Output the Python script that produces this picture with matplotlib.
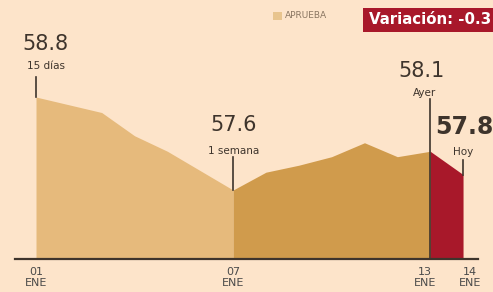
import matplotlib
matplotlib.use('Agg')
import matplotlib.pyplot as plt

# aprobacion diaria, enero
days = [1, 2, 3, 4, 5, 6, 7, 8, 9, 10, 11, 12, 13, 14]
approval = [58.8, 58.7, 58.6, 58.3, 58.1, 57.85, 57.6, 57.83, 57.92, 58.03, 58.21, 58.03, 58.1, 57.8]
tick_days = [1, 7, 13, 14]
tick_labels = ['01\nENE', '07\nENE', '13\nENE', '14\nENE']
legend_label = 'APRUEBA'
variation_label = 'Variación: -0.3'

bg = '#fde4ca'
light = '#e6ba7c'
dark = '#d09b4c'
red = '#a8182a'
ink = '#3e342c'
narrow = ['Liberation Sans Narrow', 'DejaVu Sans']

fig = plt.figure(figsize=(4.93, 2.92), dpi=100)
fig.set_facecolor(bg)
ax = fig.add_axes([0, 0, 1, 1])
ax.set_facecolor(bg)
ax.set_xlim(-0.096, 14.912)
ax.set_ylim(56.284, 60.052)
ax.axis('off')

base = 56.71
ax.fill_between(days[:7], approval[:7], base, color=light, lw=0)
ax.fill_between(days[6:13], approval[6:13], base, color=dark, lw=0)
ax.fill_between(days[12:], approval[12:], base, color=red, lw=0)
ax.axhline(base, xmin=0.03, xmax=0.97, color=ink, lw=1.6)

px_y = 1 / 77.5  # data units per pixel (vertical)

def mark(i, num, sub, num_off, sub_off, top_px, bottom=None, bold=False, size=15):
    x, y = days[i], approval[i]
    ax.annotate(num, (x, y), xytext=num_off, textcoords='offset points',
                ha='center', va='center', fontsize=size, color=ink,
                fontweight='bold' if bold else 'normal', family=narrow)
    ax.annotate(sub, (x, y), xytext=sub_off, textcoords='offset points',
                ha='center', va='center', fontsize=7.5, color=ink, family=narrow)
    y0 = bottom if bottom is not None else y
    ax.plot([x, x], [y0, y + top_px * px_y], color=ink, lw=1.2)

mark(0, '58.8', '15 días', (6.5, 38), (7, 22), 20)
mark(6, '57.6', '1 semana', (0.7, 47), (0.7, 28), 33)
mark(12, '58.1', 'Ayer', (-6, 58), (-4, 42), 52, bottom=base)
ax.annotate('57.8', (days[13], approval[13]), xytext=(-20, 34), textcoords='offset points',
            ha='left', va='center', fontsize=17, fontweight='bold', color=ink, family=narrow)
ax.annotate('Hoy', (days[13], approval[13]), xytext=(0, 16.5), textcoords='offset points',
            ha='center', va='center', fontsize=7.5, color=ink, family=narrow)
ax.plot([days[13], days[13]], [approval[13], approval[13] + 15 * px_y], color=ink, lw=1.2)

shift = {1: 0, 7: 0, 13: -4, 14: 5}
for d, lab in zip(tick_days, tick_labels):
    ax.annotate(lab, (d, base), xytext=(shift[d], -6), textcoords='offset points',
                ha='center', va='top', fontsize=8, color='#4a4a4a',
                family=narrow, linespacing=1.1)

# leyenda y caja de variacion
fig.patches.append(plt.Rectangle((273 / 493, 1 - 20 / 292), 9 / 493, 8 / 292,
                                 transform=fig.transFigure, color='#e8c48e', lw=0))
fig.text(285 / 493, 1 - 16 / 292, legend_label, fontsize=6.5, color='#8a7662',
         va='center', ha='left', family=narrow)
fig.patches.append(plt.Rectangle((363 / 493, 1 - 32 / 292), 140 / 493, 24 / 292,
                                 transform=fig.transFigure, color=red, lw=0))
fig.text(369 / 493, 1 - 20 / 292, variation_label, fontsize=10.8, color='white',
         fontweight='bold', va='center', ha='left', family=narrow)

fig.savefig('out.png', facecolor=fig.get_facecolor())
